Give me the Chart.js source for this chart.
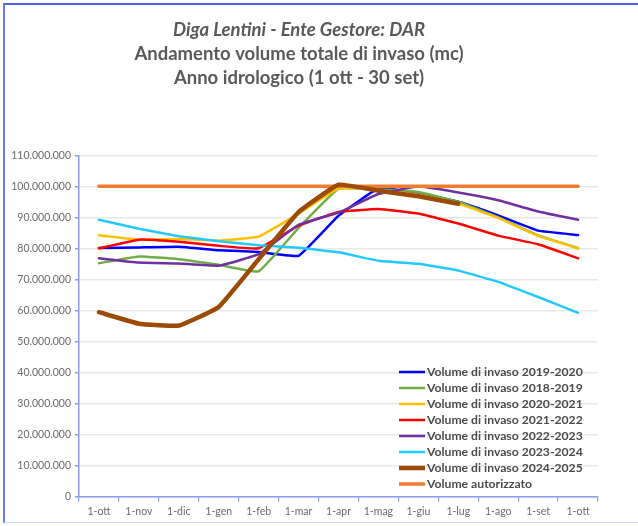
<!DOCTYPE html>
<html>
<head>
<meta charset="utf-8">
<script src="https://cdn.jsdelivr.net/npm/chart.js@4.4.1/dist/chart.umd.min.js"></script>
<style>
  html, body { margin: 0; padding: 0; background: #ffffff; }
  #wrap { position: relative; width: 638px; height: 526px; overflow: hidden; }
  #frame { position: absolute; left: 3px; top: 3px; width: 640px; height: 517px;
           border-top: 2px solid #4f62e0; border-left: 2px solid #6b7be6; border-bottom: 1px solid #cfd6f3; }
  #c { position: absolute; left: 0; top: 0; }
</style>
</head>
<body>
<div id="wrap">
  <div id="frame"></div>
  <canvas id="c" width="638" height="526"></canvas>
</div>
<script>
const categories = ['1-ott','1-nov','1-dic','1-gen','1-feb','1-mar','1-apr','1-mag','1-giu','1-lug','1-ago','1-set','1-ott'];
const yTickValues = [0,10e6,20e6,30e6,40e6,50e6,60e6,70e6,80e6,90e6,100e6,110e6];

const vol2019_2020 = [80.1e6, 80.3e6, 80.5e6, 79.4e6, 78.8e6, 77.6e6, 90.5e6, 99.3e6, 97.8e6, 95.0e6, 90.6e6, 85.7e6, 84.3e6];
const vol2018_2019 = [75.2e6, 77.4e6, 76.5e6, 74.7e6, 72.6e6, 86.6e6, 99.2e6, 99.0e6, 98.2e6, 95.0e6, 90.0e6, 84.2e6, 80.1e6];
const vol2020_2021 = [84.2e6, 82.8e6, 83.0e6, 82.5e6, 83.8e6, 91.2e6, 99.3e6, 98.8e6, 97.3e6, 94.4e6, 89.8e6, 84.0e6, 80.0e6];
const vol2021_2022 = [80.0e6, 82.8e6, 82.1e6, 80.8e6, 80.0e6, 87.3e6, 91.7e6, 92.7e6, 91.2e6, 88.0e6, 84.1e6, 81.3e6, 76.8e6];
const vol2022_2023 = [76.8e6, 75.4e6, 75.1e6, 74.4e6, 78.1e6, 87.6e6, 91.5e6, 97.5e6, 99.9e6, 98.0e6, 95.5e6, 91.9e6, 89.2e6];
const vol2023_2024 = [89.2e6, 86.3e6, 83.9e6, 82.3e6, 81.0e6, 80.2e6, 78.7e6, 76.0e6, 75.0e6, 72.8e6, 69.2e6, 64.3e6, 59.2e6];
const vol2024_2025 = [59.4e6, 55.7e6, 55.1e6, 61.1e6, 76.5e6, 91.7e6, 100.5e6, 98.6e6, 96.8e6, 94.4e6, null, null, null];
const volAutorizzato = [100e6,100e6,100e6,100e6,100e6,100e6,100e6,100e6,100e6,100e6,100e6,100e6,100e6];

function fmt(v) {
  return String(Math.round(v)).replace(/\B(?=(\d{3})+(?!\d))/g, '.');
}

function ds(label, data, color, width, order) {
  return { label, data, borderColor: color, backgroundColor: color, borderWidth: width,
           pointRadius: 0, pointHoverRadius: 0, tension: 0.1, fill: false, order,
           borderCapStyle: 'round', borderJoinStyle: 'round', spanGaps: false };
}

const datasets = [
  ds('Volume di invaso 2019-2020', vol2019_2020, '#0000ff', 2.5, 8),
  ds('Volume di invaso 2018-2019', vol2018_2019, '#70ad47', 2.5, 7),
  ds('Volume di invaso 2020-2021', vol2020_2021, '#ffc000', 2.5, 6),
  ds('Volume di invaso 2021-2022', vol2021_2022, '#ff0000', 2.5, 5),
  ds('Volume di invaso 2022-2023', vol2022_2023, '#7030a0', 2.5, 4),
  ds('Volume di invaso 2023-2024', vol2023_2024, '#22c8ff', 2.5, 3),
  ds('Volume di invaso 2024-2025', vol2024_2025, '#9c4a05', 4.5, 1),
  ds('Volume autorizzato', volAutorizzato, '#ed7d31', 3.5, 2)
];

const insideLegend = {
  id: 'insideLegend',
  afterDraw(chart) {
    const ctx = chart.ctx;
    const x0 = 399, lineLen = 26, y0 = 372, step = 16;
    ctx.save();
    ctx.font = 'bold 12.2px Lato, "Open Sans", sans-serif';
    ctx.textBaseline = 'middle';
    ctx.textAlign = 'left';
    chart.data.datasets.forEach((d, i) => {
      const y = y0 + i * step;
      ctx.strokeStyle = d.borderColor;
      ctx.lineWidth = d.borderWidth;
      ctx.lineCap = 'butt';
      ctx.beginPath();
      ctx.moveTo(x0, y);
      ctx.lineTo(x0 + lineLen, y);
      ctx.stroke();
      ctx.fillStyle = '#4a4a4a';
      ctx.fillText(d.label, x0 + lineLen + 2, y + 0.5);
    });
    ctx.restore();
  }
};

new Chart(document.getElementById('c'), {
  type: 'line',
  data: { labels: categories, datasets },
  plugins: [insideLegend],
  options: {
    responsive: false,
    animation: false,
    events: [],
    layout: { padding: { left: 0, right: 40, top: 0, bottom: 4 } },
    plugins: {
      legend: { display: false },
      tooltip: { enabled: false },
      title: {
        display: true,
        text: 'Diga Lentini - Ente Gestore: DAR',
        color: '#595959',
        font: { family: 'Lato, "Open Sans", sans-serif', size: 18.5, style: 'italic', weight: 'bold' },
        padding: { top: 19, bottom: 0 }
      },
      subtitle: {
        display: true,
        text: ['Andamento volume totale di invaso (mc)', 'Anno idrologico (1 ott - 30 set)'],
        color: '#595959',
        font: { family: 'Lato, "Open Sans", sans-serif', size: 18.5, weight: 'bold', lineHeight: 1.3 },
        padding: { top: 1, bottom: 65 }
      }
    },
    scales: {
      x: {
        type: 'category',
        offset: true,
        grid: { display: true, drawOnChartArea: false, offset: true, tickLength: 5, tickColor: '#8c9cf0', lineWidth: 1.2 },
        border: { display: true, color: '#8c9cf0', width: 1.5 },
        ticks: { color: '#6a6a6a', font: { family: 'Lato, "Open Sans", sans-serif', size: 10.5 }, padding: 4, maxRotation: 0, autoSkip: false }
      },
      y: {
        min: 0,
        max: 110e6,
        afterBuildTicks(axis) { axis.ticks = yTickValues.map(v => ({ value: v })); },
        afterFit(axis) { axis.width = 79; },
        grid: { color: '#e8e8e8', lineWidth: 1.5, tickLength: 4, tickColor: '#8c9cf0' },
        border: { display: true, color: '#8c9cf0', width: 1.5 },
        ticks: { color: '#6a6a6a', font: { family: 'Lato, "Open Sans", sans-serif', size: 10.5 }, padding: 4,
                 callback: (v) => fmt(v) }
      }
    }
  }
});
</script>
</body>
</html>
